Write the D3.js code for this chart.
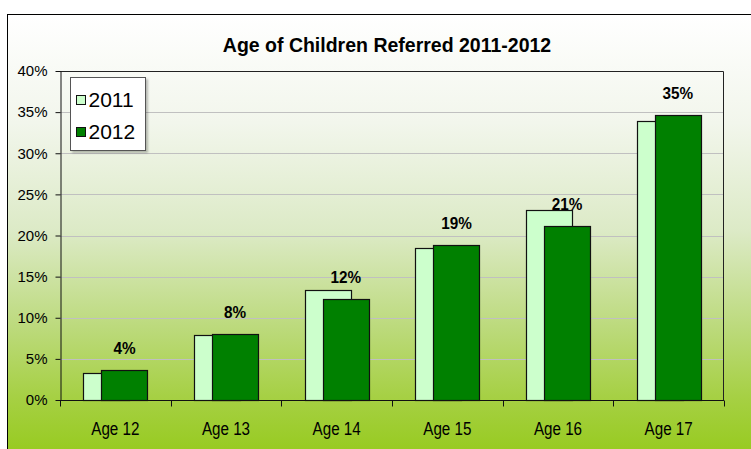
<!DOCTYPE html>
<html>
<head>
<meta charset="utf-8">
<script src="https://cdn.jsdelivr.net/npm/d3@7"></script>
<style>
  html, body { margin: 0; padding: 0; background: #ffffff; }
  svg { display: block; }
  text { font-family: "Liberation Sans", Arial, Helvetica, sans-serif; fill: #000; }
</style>
</head>
<body>
<svg id="chart" width="751" height="449"></svg>
<script>
// ---- data ----
const categories = ["Age 12", "Age 13", "Age 14", "Age 15", "Age 16", "Age 17"];
const seriesNames = ["2011", "2012"];
const values2011 = [0.033, 0.079, 0.134, 0.185, 0.231, 0.339];
const values2012 = [0.0365, 0.0806, 0.1224, 0.1885, 0.212, 0.346];
const yTicks = [0, 0.05, 0.10, 0.15, 0.20, 0.25, 0.30, 0.35, 0.40];
const title = "Age of Children Referred 2011-2012";
const seriesColors = ["#ccffcc", "#008000"];

const svg = d3.select("#chart");
const defs = svg.append("defs");

const grad = defs.append("linearGradient")
  .attr("id", "bg").attr("gradientUnits", "userSpaceOnUse")
  .attr("x1", 0).attr("y1", 14).attr("x2", 0).attr("y2", 449);
[[0, "#ffffff"], [0.25, "#f2f6ec"], [0.5, "#dceac6"], [0.72, "#bcda7c"], [0.88, "#a6d044"], [1, "#98cb22"]]
  .forEach(([o, c]) => grad.append("stop").attr("offset", o).attr("stop-color", c));

const shadow = defs.append("filter").attr("id", "shadow")
  .attr("x", "-10%").attr("y", "-10%").attr("width", "130%").attr("height", "130%");
shadow.append("feDropShadow").attr("dx", 2).attr("dy", 2).attr("stdDeviation", 1)
  .attr("flood-color", "#000").attr("flood-opacity", 0.25);

// outer chart area
svg.append("rect")
  .attr("x", 7.5).attr("y", 14.5).attr("width", 800).attr("height", 500)
  .attr("fill", "url(#bg)").attr("stroke", "#000").attr("stroke-width", 1);

// title
svg.append("text")
  .attr("x", 387).attr("y", 52)
  .attr("text-anchor", "middle")
  .style("font-size", "19.5px").style("font-weight", "bold")
  .text(title);

// plot area
const plot = { left: 60, top: 71, right: 724, bottom: 400 };

const x0 = d3.scaleBand().domain(categories).range([plot.left, plot.right]).paddingInner(0).paddingOuter(0);
const barW = 46;
const overlapShift = 18.3;
const x1 = d3.scalePoint().domain(seriesNames).range([-overlapShift / 2, overlapShift / 2]);
const y = d3.scaleLinear().domain([0, 0.40]).range([plot.bottom, plot.top]);

// gridlines
svg.append("g").selectAll("line")
  .data(yTicks.filter(t => t > 0 && t < 0.40))
  .join("line")
  .attr("x1", plot.left).attr("x2", plot.right)
  .attr("y1", d => Math.round(y(d)) + 0.5).attr("y2", d => Math.round(y(d)) + 0.5)
  .attr("stroke", "#c0c0c0").attr("stroke-width", 1);

// plot border (top & right)
svg.append("path")
  .attr("d", `M${plot.left},${plot.top + 0.5}H${plot.right - 0.5}V${plot.bottom}`)
  .attr("fill", "none").attr("stroke", "#222").attr("stroke-width", 1);

// bars
const data = categories.map((c, i) => ({ cat: c, vals: [values2011[i], values2012[i]] }));
seriesNames.forEach((s, si) => {
  svg.append("g").selectAll("rect")
    .data(data)
    .join("rect")
    .attr("x", d => Math.round(x0(d.cat) + x0.bandwidth() / 2 + x1(s) - barW / 2) + 0.5)
    .attr("y", d => Math.round(y(d.vals[si])) + 0.5)
    .attr("width", barW)
    .attr("height", d => Math.round(plot.bottom - y(d.vals[si])))
    .attr("fill", seriesColors[si])
    .attr("stroke", "#111").attr("stroke-width", 1.2);
});

// data labels on 2012
svg.append("g").selectAll("text")
  .data(data)
  .join("text")
  .attr("transform", d => `translate(${x0(d.cat) + x0.bandwidth() / 2 + x1("2012")},${y(d.vals[1]) - 16}) scale(0.9,1)`)
  .attr("text-anchor", "middle")
  .style("font-size", "17px").style("font-weight", "bold")
  .text(d => d3.format(".0%")(d.vals[1]));

// y axis
const yAxis = svg.append("g")
  .attr("transform", `translate(${plot.left + 0.5},0)`)
  .call(d3.axisLeft(y).tickValues(yTicks).tickFormat(d3.format(".0%")).tickSize(5).tickPadding(8).tickSizeOuter(0));
yAxis.select(".domain").attr("stroke", "#111");
yAxis.selectAll(".tick line").attr("stroke", "#111");
yAxis.selectAll(".tick text")
  .style("font-size", "15px").style("font-family", "'Liberation Sans', Arial, sans-serif")
  .attr("fill", "#000");

// x axis
const xAxis = svg.append("g")
  .attr("transform", `translate(0,${plot.bottom + 0.5})`);
xAxis.append("line")
  .attr("x1", plot.left).attr("x2", plot.right)
  .attr("stroke", "#111");
xAxis.selectAll("line.tk")
  .data(categories.map(c => x0(c)).concat([plot.right]))
  .join("line").attr("class", "tk")
  .attr("x1", d => Math.round(d) + 0.5).attr("x2", d => Math.round(d) + 0.5)
  .attr("y1", 0).attr("y2", 6)
  .attr("stroke", "#111");
xAxis.selectAll("text")
  .data(categories)
  .join("text")
  .attr("transform", d => `translate(${x0(d) + x0.bandwidth() / 2},${434 - plot.bottom}) scale(0.8,1)`)
  .attr("text-anchor", "middle")
  .style("font-size", "19px")
  .text(d => d);

// legend
const lg = svg.append("g").attr("transform", "translate(70.5,77.5)");
lg.append("rect")
  .attr("width", 75).attr("height", 73)
  .attr("fill", "#ffffff").attr("stroke", "#555").attr("stroke-width", 1)
  .attr("filter", "url(#shadow)");
seriesNames.forEach((s, i) => {
  const gy = i * 32;
  lg.append("rect")
    .attr("x", 6).attr("y", 18 + gy).attr("width", 9).attr("height", 9)
    .attr("fill", seriesColors[i]).attr("stroke", "#111").attr("stroke-width", 1);
  lg.append("text")
    .attr("x", 18).attr("y", 29 + gy)
    .style("font-size", "21px")
    .text(s);
});
</script>
</body>
</html>
